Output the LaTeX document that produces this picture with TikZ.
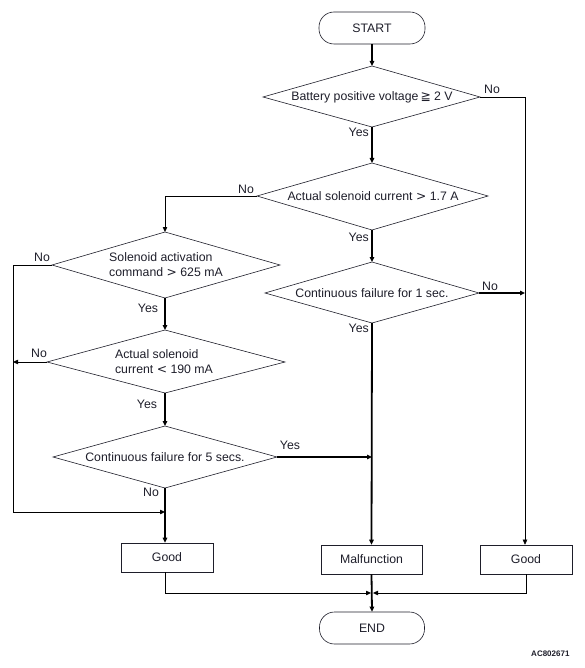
\documentclass[tikz,border=0pt]{standalone}
\usepackage{fontspec}
\setmainfont{Liberation Sans}
\newfontfamily\symfont{DejaVu Sans}
\usetikzlibrary{shapes.geometric,arrows.meta}
\definecolor{txt}{HTML}{1E1E2A}
\definecolor{thin}{HTML}{707070}
\tikzset{
  x=1pt,y=-1pt,
  every node/.style={font=\fontsize{12.3}{15}\selectfont,text=txt},
  term/.style={draw=txt,line width=0.6pt,rounded corners=15pt,inner sep=0pt,align=center},
  outbox/.style={draw=txt,line width=0.6pt,inner sep=0pt,align=center},
  thick arr/.style={line width=1.8pt,black,-{Triangle[length=5pt,width=4.5pt]}},
  thick line/.style={line width=1.8pt,black},
  thin arr/.style={line width=0.9pt,thin,-{Triangle[length=5pt,width=4.5pt]}},
  thin line/.style={line width=0.9pt,thin},
  dia line/.style={txt,line width=0.6pt},
  lab/.style={inner sep=1pt}
}
\begin{document}
\begin{tikzpicture}
\useasboundingbox (0,0) rectangle (584,668);
% Terminals
\node[term,minimum width=106pt,minimum height=32pt] (start) at (372,28) {START};
\node[term,minimum width=105pt,minimum height=32pt] (end) at (372,628) {END};
% Diamonds
\coordinate (d1t) at (372,66); \coordinate (d1b) at (372,127);
\coordinate (d1l) at (263,97); \coordinate (d1r) at (480,97);
\draw[dia line] (d1t) -- (d1r) -- (d1b) -- (d1l) -- cycle;
\node at (372,97) (d1) {Battery positive voltage{\symfont\,≧} 2 V};

\coordinate (d2t) at (372,163); \coordinate (d2b) at (372,230);
\coordinate (d2l) at (257,196); \coordinate (d2r) at (488,196);
\draw[dia line] (d2t) -- (d2r) -- (d2b) -- (d2l) -- cycle;
\node at (373,196) (d2) {Actual solenoid current {\symfont>} 1.7 A};

\coordinate (d3t) at (372,262); \coordinate (d3b) at (372,323);
\coordinate (d3l) at (265,293); \coordinate (d3r) at (479,293);
\draw[dia line] (d3t) -- (d3r) -- (d3b) -- (d3l) -- cycle;
\node at (372,293) (d3) {Continuous failure for 1 sec.};

\coordinate (d4t) at (165,232); \coordinate (d4b) at (165,298);
\coordinate (d4l) at (52,265); \coordinate (d4r) at (280,265);
\draw[dia line] (d4t) -- (d4r) -- (d4b) -- (d4l) -- cycle;
\node[align=left] at (166,265) (d4) {Solenoid activation\\command {\symfont>} 625 mA};

\coordinate (d5t) at (165,330); \coordinate (d5b) at (165,393);
\coordinate (d5l) at (47,362); \coordinate (d5r) at (285,362);
\draw[dia line] (d5t) -- (d5r) -- (d5b) -- (d5l) -- cycle;
\node[align=left] at (164,362) (d5) {Actual solenoid\\current {\symfont<} 190 mA};

\coordinate (d6t) at (165,426); \coordinate (d6b) at (165,488);
\coordinate (d6l) at (53,457); \coordinate (d6r) at (277,457);
\draw[dia line] (d6t) -- (d6r) -- (d6b) -- (d6l) -- cycle;
\node at (165,457) (d6) {Continuous failure for 5 secs.};

% Output boxes
\node[outbox,minimum width=92pt,minimum height=29pt] (good1) at (167,557.5) {Good};
\node[outbox,minimum width=101pt,minimum height=29pt] (mal) at (371.5,559.5) {Malfunction};
\node[outbox,minimum width=92pt,minimum height=29pt] (good2) at (526,559.5) {Good};

% Helper coordinates
\coordinate (rcol) at (525,97);
\coordinate (rj) at (525,293);
\coordinate (lcol) at (13,265);
\coordinate (lj5) at (13,362);
\coordinate (lbot) at (13,512);
\coordinate (ljoin) at (165,512);
\coordinate (mj6) at (372,457);
\coordinate (bj) at (372,593);

% Main spine
\draw[thick arr] (start.south) -- (d1t);
\draw[thick arr] (d1b) -- (d2t);
\draw[thick arr] (d2b) -- (d3t);
\draw[thick arr] (d3b) -- (mal.north);
\draw[thick arr] (mal.south) -- (end.north);
% Diamond 1 No
\draw[thin arr] (d1r) -- (rcol) -- (good2.north -| rcol);
% Diamond 3 No
\draw[thick arr] (d3r) -- (rj);
% Diamond 2 No
\draw[thin arr] (d2l) -| (d4t);
% Left spine
\draw[thick arr] (d4b) -- (d5t);
\draw[thick arr] (d5b) -- (d6t);
\draw[thick arr] (d6b) -- (good1.north -| d6b);
% Diamond 4 and 5 No
\draw[thin line] (d4l) -- (lcol) -- (lbot);
\draw[thin arr] (lbot) -- (ljoin);
\draw[thin arr] (d5l) -- (lj5);
% Diamond 6 Yes
\draw[thick arr] (d6r) -- (mj6);
% Bottom joins
\draw[thin arr] (good1.south -| ljoin) |- ([xshift=-1pt]bj);
\draw[thin arr] (good2.south) |- ([xshift=1pt]bj);

% Labels
\node[lab,anchor=east] at (370,132) {Yes};
\node[lab,anchor=east] at (370,237) {Yes};
\node[lab,anchor=east] at (370,328) {Yes};
\node[lab] at (492,89) {No};
\node[lab] at (490,286) {No};
\node[lab] at (246,189) {No};
\node[lab] at (42,257) {No};
\node[lab] at (148,308) {Yes};
\node[lab] at (39,353) {No};
\node[lab] at (147,404) {Yes};
\node[lab] at (290,445) {Yes};
\node[lab] at (151,492) {No};
\node[font=\bfseries\fontsize{8}{9}\selectfont,anchor=east] (code) at (573,654) {AC802671};
\end{tikzpicture}
\end{document}
